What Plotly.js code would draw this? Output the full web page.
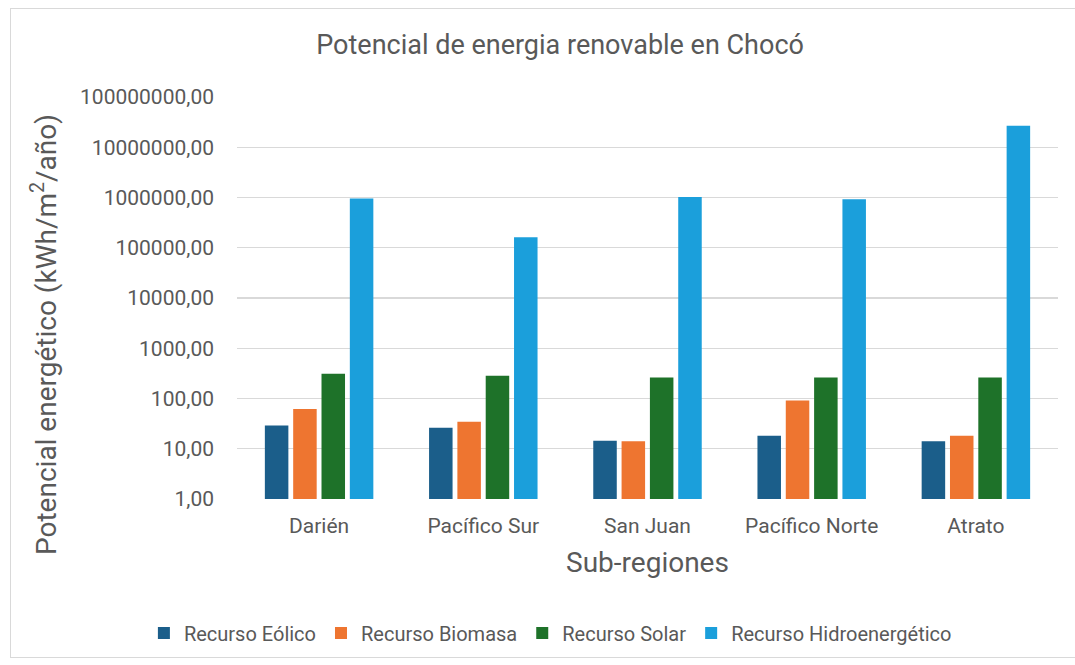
<!DOCTYPE html>
<html>
<head>
<meta charset="utf-8">
<script src="https://cdn.plot.ly/plotly-3.0.1.min.js"></script>
<style>
  html, body { margin: 0; padding: 0; background: #ffffff; }
  #wrap { position: relative; width: 1075px; height: 665px; overflow: hidden; }
  #frame { position: absolute; left: 10px; top: 8px; width: 1080px; height: 650px;
           border: 1px solid #d9d9d9; box-sizing: border-box; pointer-events: none; }
  #chart { position: absolute; left: 0; top: 0; width: 1075px; height: 665px; }
</style>
</head>
<body>
<div id="wrap">
  <div id="chart"></div>
  <div id="frame"></div>
</div>
<script>
// Sub-regions of Chocó
const subregiones = ['Darién', 'Pacífico Sur', 'San Juan', 'Pacífico Norte', 'Atrato'];

// Energy potential per resource (kWh/m²/año)
const eolico = [29, 26, 14.4, 18, 14];
const biomasa = [62, 34.5, 14, 91, 18];
const solar = [310, 283, 262, 262, 262];
const hidro = [960000, 162000, 1030000, 925000, 27000000];

const nombres = ['Recurso Eólico', 'Recurso Biomasa', 'Recurso Solar', 'Recurso Hidroenergético'];
const colores = ['#1b5e8a', '#ee7530', '#1e7229', '#1b9fdb'];

// Log-axis tick positions and their labels
const ticksY = [1, 10, 100, 1000, 10000, 100000, 1000000, 10000000, 100000000];
const ticksYTexto = ['1,00', '10,00', '100,00', '1000,00', '10000,00', '100000,00',
                     '1000000,00', '10000000,00', '100000000,00'];

const series = [eolico, biomasa, solar, hidro];
const FONT = 'Roboto, "Liberation Sans", sans-serif';
const GRIS = '#595959';

const traces = series.map((vals, i) => ({
  type: 'bar',
  name: nombres[i],
  x: subregiones,
  y: vals,
  marker: { color: colores[i], line: { width: 0 } },
  hoverinfo: 'x+y+name'
}));

const layout = {
  width: 1075,
  height: 665,
  margin: { l: 237, r: 17, t: 97, b: 166, pad: 0 },
  paper_bgcolor: 'rgba(0,0,0,0)',
  plot_bgcolor: 'rgba(0,0,0,0)',
  barmode: 'group',
  bargap: 0.31,
  bargroupgap: 0.17,
  font: { family: FONT, color: GRIS },
  title: {
    text: 'Potencial de energia renovable en Chocó',
    font: { family: FONT, size: 27, color: GRIS },
    xref: 'container', yref: 'container',
    x: 0.521, xanchor: 'center',
    y: 1 - 45 / 665, yanchor: 'middle'
  },
  xaxis: {
    type: 'category',
    showgrid: false,
    showline: false,
    zeroline: false,
    ticks: '',
    tickfont: { family: FONT, size: 21, color: GRIS },
    ticklabelstandoff: 12,
    title: {
      text: 'Sub-regiones',
      font: { family: FONT, size: 28, color: GRIS },
      standoff: 15
    }
  },
  yaxis: {
    type: 'log',
    range: [-0.002, 8.002],
    tickmode: 'array',
    tickvals: ticksY,
    ticktext: ticksYTexto,
    showgrid: true,
    gridcolor: '#d9d9d9',
    gridwidth: 1.3,
    zeroline: false,
    showline: false,
    ticks: '',
    tickfont: { family: FONT, size: 21, color: GRIS },
    ticklabelstandoff: 22
  },
  annotations: [{
    text: 'Potencial energético (kWh/m<sup>2</sup>/año)',
    textangle: -90,
    xref: 'paper', yref: 'paper',
    x: (44 - 237) / (1075 - 237 - 17), xanchor: 'center',
    y: (499 - 335) / (499 - 97), yanchor: 'middle',
    showarrow: false,
    font: { family: FONT, size: 28, color: GRIS }
  }],
  showlegend: true,
  legend: {
    orientation: 'h',
    xref: 'container', yref: 'container',
    x: 0.512, xanchor: 'center',
    y: 1 - 633 / 665, yanchor: 'middle',
    font: { family: FONT, size: 20, color: GRIS },
    itemwidth: 30,
    traceorder: 'normal',
    bgcolor: 'rgba(0,0,0,0)'
  }
};

Plotly.newPlot('chart', traces, layout, { displayModeBar: false, staticPlot: true });
</script>
</body>
</html>
